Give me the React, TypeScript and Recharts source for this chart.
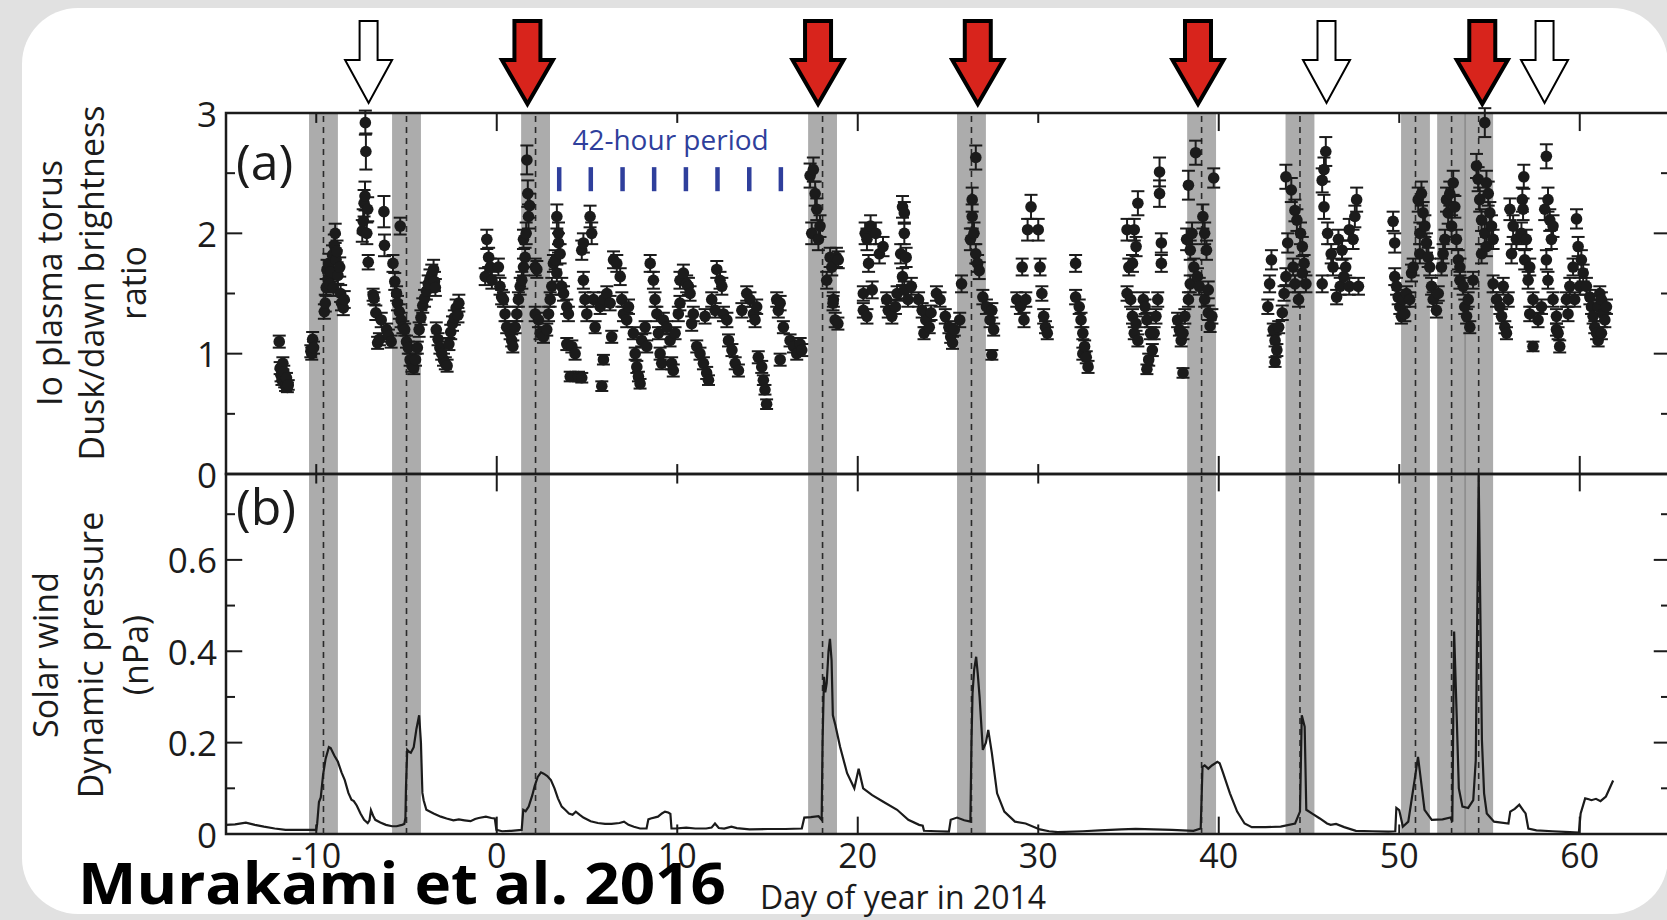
import {
  ErrorBar,
  Line,
  LineChart,
  ReferenceArea,
  ReferenceDot,
  ReferenceLine,
  Scatter,
  ScatterChart,
  XAxis,
  YAxis,
} from 'recharts'

type Obs = [number, number, number] // day, dusk/dawn ratio, error
type Wind = [number, number] // day, dynamic pressure (nPa)

const FONT = "'Open Sans', 'Noto Sans', sans-serif"
const INK = '#1b1b1b'
const BLUE = '#2f3f9c'
const RED = '#d8241c'

// axes
const dayDomain: [number, number] = [-15, 65]
const dayTicks = [-10, 0, 10, 20, 30, 40, 50, 60]
const ratioTicks = [0, 1, 2, 3]
const ratioMajor = [1, 2]
const ratioMinor = [0.5, 1.5, 2.5]
const pressureTicks = [0, 0.2, 0.4, 0.6]
const pressureMajor = [0.2, 0.4, 0.6]
const pressureMinor = [0.1, 0.3, 0.5, 0.7]
const ratioTop = 3
const pressureTop = 0.788

// grey windows + dashed lines: expected solar wind arrival at Jupiter
const arrivalWindows: [number, number][] = [
  [-10.4, -8.8], [-5.8, -4.2], [1.35, 2.95], [17.25, 18.85], [25.5, 27.1],
  [38.25, 39.85], [43.7, 45.3], [50.1, 51.7], [52.1, 53.7], [53.6, 55.2],
]
const arrivalDays = [-9.6, -5.0, 2.15, 18.05, 26.3, 39.05, 44.5, 50.9, 52.9, 54.4]
const redArrowDays = [1.7, 17.8, 26.65, 38.85, 54.6]
const whiteArrowDays = [-7.1, 45.97, 58.05]
const periodDays = [3.46, 5.21, 6.97, 8.72, 10.48, 12.23, 13.99, 15.74]

// Io plasma torus dusk/dawn ratio (Hisaki)
const torusDec1: Obs[] = [
  [-12.05, 1.1, 0.05], [-12.0, 0.88, 0.05], [-11.95, 0.82, 0.05], [-11.9, 0.78, 0.04], [-11.85, 0.92, 0.05],
  [-11.8, 0.85, 0.05], [-11.75, 0.76, 0.04], [-11.7, 0.73, 0.04], [-11.65, 0.8, 0.04], [-11.6, 0.72, 0.04],
  [-11.55, 0.74, 0.04], [-10.3, 1.02, 0.05], [-10.25, 1.0, 0.05], [-10.2, 1.12, 0.06], [-10.15, 1.05, 0.05],
  [-9.55, 1.35, 0.06], [-9.5, 1.42, 0.07], [-9.45, 1.55, 0.07], [-9.4, 1.7, 0.08], [-9.35, 1.62, 0.07],
  [-9.3, 1.75, 0.08], [-9.25, 1.58, 0.07], [-9.2, 1.68, 0.08], [-9.1, 1.82, 0.08], [-9.05, 1.55, 0.07],
  [-9.0, 1.9, 0.09], [-8.95, 2.0, 0.08], [-8.9, 1.78, 0.08], [-8.85, 1.85, 0.09], [-8.8, 1.65, 0.07],
  [-8.7, 1.72, 0.08], [-8.65, 1.5, 0.07], [-8.6, 1.42, 0.06], [-8.5, 1.38, 0.06], [-8.45, 1.45, 0.07],
]
const torusDec2: Obs[] = [
  [-7.45, 2.02, 0.09], [-7.4, 2.1, 0.1], [-7.35, 2.25, 0.11], [-7.3, 2.31, 0.12], [-7.28, 2.92, 0.1],
  [-7.25, 2.68, 0.15], [-7.2, 2.0, 0.09], [-7.15, 2.2, 0.1], [-7.12, 1.76, 0.06], [-6.85, 1.49, 0.05],
  [-6.8, 1.46, 0.05], [-6.7, 1.34, 0.06], [-6.6, 1.09, 0.05], [-6.5, 1.12, 0.05], [-6.4, 1.28, 0.06],
  [-6.25, 2.18, 0.13], [-6.22, 1.9, 0.09], [-6.1, 1.2, 0.05], [-6.0, 1.15, 0.05], [-5.85, 1.1, 0.05],
  [-5.75, 1.75, 0.07], [-5.65, 1.6, 0.07], [-5.55, 1.5, 0.06], [-5.5, 1.42, 0.06], [-5.4, 1.35, 0.06],
  [-5.35, 2.06, 0.07], [-5.3, 1.28, 0.06], [-5.2, 1.22, 0.05], [-5.1, 1.2, 0.05], [-5.0, 1.1, 0.05],
  [-4.9, 1.05, 0.05], [-4.8, 0.95, 0.05], [-4.7, 0.9, 0.05], [-4.6, 0.88, 0.05], [-4.5, 0.95, 0.05],
  [-4.4, 1.05, 0.05], [-4.3, 1.2, 0.06], [-4.2, 1.3, 0.06], [-4.1, 1.4, 0.06], [-4.0, 1.46, 0.07],
  [-3.9, 1.52, 0.07], [-3.8, 1.58, 0.07], [-3.7, 1.62, 0.08], [-3.6, 1.66, 0.08], [-3.5, 1.7, 0.08],
  [-3.45, 1.6, 0.08], [-3.4, 1.55, 0.07], [-3.35, 1.2, 0.06], [-3.25, 1.12, 0.05], [-3.15, 1.05, 0.05],
  [-3.05, 1.0, 0.05], [-2.95, 0.95, 0.05], [-2.85, 0.92, 0.05], [-2.75, 0.9, 0.05], [-2.65, 1.08, 0.05],
  [-2.55, 1.18, 0.06], [-2.45, 1.25, 0.06], [-2.35, 1.3, 0.06], [-2.25, 1.38, 0.07], [-2.15, 1.32, 0.06],
  [-2.1, 1.42, 0.07],
]
const torusJanA: Obs[] = [
  [-0.64, 1.64, 0.07], [-0.55, 1.95, 0.08], [-0.45, 1.8, 0.08], [-0.36, 1.72, 0.07], [-0.27, 1.61, 0.07],
  [0.09, 1.72, 0.07], [0.18, 1.56, 0.07], [0.27, 1.47, 0.06], [0.37, 1.45, 0.06], [0.46, 1.33, 0.06],
  [0.55, 1.22, 0.05], [0.74, 1.17, 0.05], [0.83, 1.11, 0.05], [0.89, 1.06, 0.05], [1.02, 1.22, 0.05],
  [1.11, 1.33, 0.06], [1.2, 1.45, 0.06], [1.3, 1.56, 0.07], [1.39, 1.61, 0.07], [1.48, 1.72, 0.07],
  [1.48, 1.95, 0.08], [1.57, 1.8, 0.08], [1.63, 2.0, 0.09], [1.67, 2.61, 0.12], [1.72, 2.33, 0.11],
  [1.76, 2.14, 0.1], [1.82, 2.23, 0.1], [2.13, 1.72, 0.07], [2.22, 1.7, 0.07], [2.13, 1.33, 0.06],
  [2.31, 1.28, 0.06], [2.4, 1.17, 0.05], [2.59, 1.14, 0.05], [2.77, 1.2, 0.05], [2.87, 1.33, 0.06],
  [2.96, 1.45, 0.06], [3.05, 1.56, 0.07], [3.14, 1.75, 0.07], [3.24, 1.78, 0.08], [3.33, 2.14, 0.1],
  [3.42, 2.0, 0.09], [3.42, 1.92, 0.08], [3.51, 1.83, 0.08], [3.33, 1.67, 0.07], [3.6, 1.56, 0.07],
  [3.7, 1.5, 0.06], [3.88, 1.39, 0.06], [3.97, 1.33, 0.06], [3.88, 1.08, 0.05], [4.16, 1.06, 0.05],
  [4.34, 1.0, 0.05], [4.07, 0.81, 0.04], [4.53, 0.81, 0.04], [4.71, 0.8, 0.04], [4.71, 1.86, 0.08],
  [4.8, 1.92, 0.08], [4.8, 1.61, 0.07], [4.89, 1.45, 0.06], [4.99, 1.33, 0.06], [5.17, 2.14, 0.09],
  [5.26, 2.0, 0.09], [5.36, 1.45, 0.06], [5.45, 1.22, 0.05], [5.73, 1.39, 0.06], [5.91, 1.45, 0.06],
  [6.1, 1.5, 0.06], [6.28, 1.42, 0.06], [5.91, 0.95, 0.04], [5.82, 0.73, 0.04], [6.37, 1.14, 0.05],
  [6.47, 1.78, 0.07], [6.65, 1.75, 0.07], [6.84, 1.64, 0.07], [6.93, 1.45, 0.06], [7.02, 1.33, 0.06],
  [7.2, 1.28, 0.06], [7.3, 1.39, 0.06], [7.57, 1.17, 0.05], [7.67, 1.0, 0.05], [7.76, 0.89, 0.05],
  [7.85, 0.81, 0.04], [7.94, 0.75, 0.04], [8.03, 1.11, 0.05], [8.22, 1.22, 0.05], [8.31, 1.06, 0.05],
  [8.5, 1.75, 0.07], [8.68, 1.61, 0.07], [8.77, 1.45, 0.06], [8.87, 1.33, 0.06], [8.96, 1.17, 0.05],
  [9.05, 1.0, 0.05], [9.14, 0.92, 0.05], [9.23, 1.28, 0.06],
]
const torusJanB: Obs[] = [
  [9.42, 1.22, 0.05], [9.6, 1.11, 0.05], [9.69, 0.92, 0.05], [9.78, 0.86, 0.05], [9.88, 1.17, 0.05],
  [10.06, 1.33, 0.06], [10.15, 1.42, 0.06], [10.15, 1.61, 0.07], [10.34, 1.67, 0.07], [10.52, 1.58, 0.07],
  [10.62, 1.56, 0.07], [10.71, 1.5, 0.06], [10.8, 1.25, 0.06], [10.89, 1.33, 0.06], [11.08, 1.06, 0.05],
  [11.26, 1.0, 0.05], [11.45, 0.92, 0.05], [11.63, 0.84, 0.05], [11.73, 0.78, 0.04], [11.54, 1.31, 0.06],
  [11.91, 1.45, 0.06], [12.19, 1.7, 0.07], [12.37, 1.61, 0.07], [12.47, 1.56, 0.07], [12.1, 1.36, 0.06],
  [12.56, 1.33, 0.06], [12.75, 1.28, 0.06], [12.84, 1.11, 0.05], [13.03, 1.03, 0.05], [13.21, 0.92, 0.05],
  [13.39, 0.86, 0.05], [13.58, 1.36, 0.06], [13.85, 1.5, 0.06], [14.03, 1.45, 0.06], [14.22, 1.33, 0.06],
  [14.4, 1.39, 0.06], [14.31, 1.28, 0.06], [14.49, 0.97, 0.05], [14.68, 0.89, 0.05], [14.77, 0.78, 0.04],
  [14.86, 0.7, 0.04], [14.95, 0.58, 0.04], [15.51, 1.45, 0.06], [15.6, 1.36, 0.06], [15.7, 1.42, 0.06],
  [15.88, 1.22, 0.05], [15.7, 0.95, 0.05], [16.25, 1.11, 0.05], [16.44, 1.06, 0.05], [16.62, 1.0, 0.05],
  [16.81, 1.08, 0.05], [16.9, 1.03, 0.05], [17.36, 2.48, 0.1], [17.54, 2.53, 0.1], [17.64, 2.33, 0.1],
  [17.73, 2.2, 0.09], [17.45, 2.0, 0.09], [17.82, 1.95, 0.09], [17.91, 2.06, 0.09], [18.28, 1.61, 0.07],
  [18.47, 1.8, 0.08], [18.56, 1.72, 0.07], [18.65, 1.45, 0.06], [18.75, 1.28, 0.06], [18.63, 1.42, 0.06],
  [18.82, 1.8, 0.08], [18.92, 1.78, 0.07], [18.9, 1.25, 0.05],
]
const torusJanC: Obs[] = [
  [20.31, 1.5, 0.06], [20.31, 1.36, 0.06], [20.41, 2.0, 0.09], [20.51, 1.95, 0.09], [20.51, 1.31, 0.06],
  [20.6, 1.75, 0.07], [20.71, 2.06, 0.09], [20.8, 1.53, 0.07], [21.0, 2.0, 0.09], [21.2, 1.83, 0.08],
  [21.4, 1.89, 0.08], [21.6, 1.45, 0.06], [21.69, 1.36, 0.06], [21.89, 1.31, 0.06], [22.09, 1.39, 0.06],
  [22.18, 1.5, 0.06], [22.38, 1.83, 0.08], [22.48, 2.22, 0.09], [22.48, 1.64, 0.07], [22.58, 2.17, 0.09],
  [22.58, 2.0, 0.09], [22.58, 1.53, 0.07], [22.68, 1.8, 0.08], [22.78, 1.45, 0.06], [22.97, 1.56, 0.07],
  [23.37, 1.45, 0.06], [23.57, 1.36, 0.06], [23.67, 1.17, 0.05], [23.77, 1.28, 0.06], [23.96, 1.22, 0.05],
  [24.06, 1.34, 0.06], [24.36, 1.5, 0.06], [24.56, 1.45, 0.06], [24.85, 1.31, 0.06], [25.05, 1.22, 0.05],
  [25.15, 1.14, 0.05], [25.25, 1.09, 0.05], [25.35, 1.2, 0.05], [25.65, 1.28, 0.06], [25.75, 1.58, 0.07],
  [26.24, 1.95, 0.09], [26.34, 2.28, 0.1], [26.34, 2.14, 0.1], [26.44, 2.0, 0.09], [26.54, 2.63, 0.1],
  [26.54, 1.83, 0.08], [26.64, 1.75, 0.07], [26.73, 1.69, 0.07], [26.93, 1.47, 0.06], [27.13, 1.39, 0.06],
  [27.33, 1.28, 0.06], [27.43, 1.36, 0.06], [27.43, 0.99, 0.04], [27.53, 1.2, 0.05], [28.81, 1.45, 0.06],
  [29.01, 1.39, 0.06], [29.11, 1.72, 0.07], [29.21, 1.28, 0.06], [29.31, 1.45, 0.06], [29.41, 2.03, 0.09],
  [29.6, 2.22, 0.1], [30.0, 2.03, 0.09], [30.1, 1.72, 0.07], [30.2, 1.5, 0.06], [30.3, 1.31, 0.06],
  [30.4, 1.22, 0.05], [30.5, 1.17, 0.05], [32.07, 1.75, 0.07], [32.07, 1.47, 0.06], [32.27, 1.39, 0.06],
  [32.37, 1.28, 0.06], [32.47, 1.17, 0.05], [32.47, 1.0, 0.05], [32.57, 1.06, 0.05], [32.66, 0.97, 0.05],
  [32.76, 0.89, 0.05],
]
const torusFebA: Obs[] = [
  [34.92, 2.03, 0.09], [34.92, 1.5, 0.06], [35.02, 1.72, 0.07], [35.12, 1.45, 0.06], [35.22, 1.75, 0.07],
  [35.22, 1.31, 0.06], [35.32, 2.03, 0.09], [35.32, 1.17, 0.05], [35.42, 1.89, 0.08], [35.42, 1.25, 0.06],
  [35.52, 2.25, 0.1], [35.52, 1.11, 0.05], [35.82, 1.45, 0.06], [35.92, 1.39, 0.06], [36.02, 1.28, 0.06],
  [36.02, 0.87, 0.04], [36.12, 0.95, 0.05], [36.22, 1.17, 0.05], [36.32, 1.03, 0.05], [36.42, 1.17, 0.05],
  [36.52, 1.31, 0.06], [36.62, 1.45, 0.06], [36.72, 2.51, 0.12], [36.72, 2.33, 0.11], [36.82, 1.92, 0.08],
  [36.82, 1.75, 0.07], [37.72, 1.28, 0.06], [37.82, 1.2, 0.05], [37.92, 1.11, 0.05], [38.02, 1.17, 0.05],
  [38.02, 0.84, 0.04], [38.12, 1.31, 0.06], [38.22, 1.95, 0.09], [38.32, 2.4, 0.12], [38.32, 1.45, 0.06],
  [38.42, 1.86, 0.08], [38.42, 1.58, 0.07], [38.52, 2.0, 0.09], [38.62, 1.72, 0.07], [38.72, 2.67, 0.1],
  [38.82, 1.64, 0.07], [38.92, 1.56, 0.07], [39.12, 2.14, 0.1], [39.22, 2.0, 0.09], [39.22, 1.45, 0.06],
  [39.32, 1.86, 0.08], [39.42, 1.53, 0.07], [39.42, 1.34, 0.06], [39.52, 1.23, 0.05], [39.62, 1.31, 0.06],
  [39.72, 2.46, 0.08],
]
const torusFebB: Obs[] = [
  [42.72, 1.39, 0.06], [42.82, 1.58, 0.07], [42.92, 1.78, 0.08], [43.02, 1.2, 0.05], [43.12, 1.11, 0.05],
  [43.12, 0.93, 0.04], [43.22, 1.03, 0.05], [43.32, 1.22, 0.05], [43.52, 1.34, 0.06], [43.62, 1.5, 0.06],
  [43.72, 1.64, 0.07], [43.72, 2.47, 0.1], [43.82, 1.92, 0.08], [44.02, 2.36, 0.1], [44.12, 1.72, 0.07],
  [44.22, 2.19, 0.09], [44.22, 1.58, 0.07], [44.33, 2.11, 0.09], [44.42, 1.45, 0.06], [44.53, 2.0, 0.09],
  [44.63, 1.89, 0.08], [44.63, 1.67, 0.07], [44.73, 1.75, 0.07], [44.83, 1.58, 0.07], [45.73, 2.44, 0.1],
  [45.73, 1.58, 0.07], [45.83, 2.53, 0.1], [45.83, 2.22, 0.1], [45.93, 2.68, 0.12], [46.03, 2.0, 0.09],
  [46.23, 1.83, 0.08], [46.33, 1.72, 0.07], [46.53, 1.47, 0.06], [46.63, 1.95, 0.08], [46.73, 1.56, 0.07],
  [46.83, 1.86, 0.08], [46.93, 1.64, 0.07], [47.03, 1.72, 0.07], [47.23, 2.03, 0.09], [47.23, 1.56, 0.07],
  [47.44, 1.95, 0.08], [47.54, 2.14, 0.09], [47.64, 2.28, 0.1], [47.74, 1.56, 0.07],
]
const torusFebC: Obs[] = [
  [49.66, 2.1, 0.08], [49.75, 1.92, 0.08], [49.75, 1.64, 0.07], [49.85, 1.56, 0.07], [49.94, 1.47, 0.06],
  [50.03, 1.39, 0.06], [50.12, 1.31, 0.06], [50.21, 1.45, 0.06], [50.31, 1.33, 0.06], [50.4, 1.5, 0.06],
  [50.58, 1.45, 0.06], [50.68, 1.67, 0.07], [50.77, 1.72, 0.07], [51.05, 2.28, 0.1], [51.14, 2.0, 0.09],
  [51.14, 1.83, 0.08], [51.23, 2.33, 0.1], [51.32, 2.17, 0.09], [51.42, 2.06, 0.09], [51.51, 1.92, 0.08],
  [51.6, 1.8, 0.08], [51.69, 1.72, 0.07], [51.79, 1.56, 0.07], [51.88, 1.45, 0.06], [52.06, 1.36, 0.06],
  [52.16, 1.5, 0.06], [52.34, 1.72, 0.07], [52.43, 1.83, 0.08], [52.53, 1.95, 0.08], [52.62, 2.28, 0.1],
  [52.71, 2.17, 0.09], [52.8, 2.33, 0.1], [52.9, 2.06, 0.09], [52.99, 2.42, 0.1], [53.08, 2.22, 0.09],
  [53.17, 1.95, 0.08], [53.27, 1.78, 0.08], [53.36, 1.72, 0.07], [53.36, 1.61, 0.07], [53.54, 1.56, 0.07],
  [53.63, 1.39, 0.06], [53.73, 1.31, 0.06], [53.82, 1.45, 0.06], [53.91, 1.22, 0.05], [54.09, 1.61, 0.07],
  [54.28, 2.56, 0.1], [54.37, 2.45, 0.1], [54.46, 2.28, 0.1], [54.56, 2.11, 0.09], [54.56, 1.83, 0.08],
  [54.74, 2.92, 0.12], [54.74, 2.0, 0.09], [54.83, 2.42, 0.1], [54.83, 1.89, 0.08], [54.93, 2.33, 0.1],
  [55.02, 2.17, 0.09], [55.11, 2.06, 0.09], [55.2, 1.95, 0.08], [55.2, 1.58, 0.07], [55.39, 1.45, 0.06],
  [55.57, 1.39, 0.06], [55.67, 1.31, 0.06], [55.76, 1.56, 0.07], [55.85, 1.22, 0.05], [55.94, 1.17, 0.05],
  [56.04, 1.45, 0.06], [56.13, 2.2, 0.09], [56.22, 1.83, 0.08], [56.31, 2.06, 0.09], [56.49, 1.95, 0.08],
  [56.77, 2.0, 0.09], [56.82, 2.28, 0.1], [56.86, 2.2, 0.09], [56.9, 2.47, 0.1], [56.95, 1.78, 0.08],
  [57.04, 1.95, 0.08], [57.14, 1.61, 0.07], [57.23, 1.72, 0.07], [57.23, 1.33, 0.06], [57.41, 1.45, 0.06],
  [57.41, 1.06, 0.04], [57.69, 1.28, 0.06], [57.88, 1.39, 0.06], [58.06, 2.2, 0.09], [58.15, 2.64, 0.1],
  [58.15, 1.78, 0.08], [58.24, 2.28, 0.1], [58.24, 1.61, 0.07], [58.34, 2.11, 0.09], [58.43, 1.95, 0.08],
  [58.52, 2.06, 0.09], [58.52, 1.45, 0.06], [58.71, 1.31, 0.06], [58.71, 1.2, 0.05], [58.8, 1.17, 0.05],
  [58.89, 1.06, 0.05], [59.26, 1.45, 0.06], [59.35, 1.33, 0.06], [59.45, 1.56, 0.07], [59.63, 1.72, 0.07],
  [59.72, 1.45, 0.06], [59.82, 2.12, 0.08], [59.91, 1.89, 0.08], [60.0, 1.56, 0.07], [60.09, 1.78, 0.08],
  [60.19, 1.67, 0.07], [60.37, 1.56, 0.07], [60.56, 1.47, 0.06], [60.65, 1.39, 0.06], [60.74, 1.31, 0.06],
  [60.83, 1.22, 0.05], [60.93, 1.17, 0.05], [61.02, 1.39, 0.06], [61.02, 1.11, 0.05], [61.11, 1.5, 0.06],
  [61.2, 1.45, 0.06], [61.2, 1.17, 0.05], [61.29, 1.33, 0.06], [61.39, 1.28, 0.06], [61.48, 1.39, 0.06],
]

// solar wind dynamic pressure propagated to Jupiter
const windDec: Wind[] = [
  [-15, 0.02], [-14.5, 0.021], [-13.9, 0.025], [-13.4, 0.02], [-12.9, 0.016], [-12.3, 0.012], [-11.7, 0.009],
  [-11.0, 0.009], [-10.4, 0.009], [-10.0, 0.009], [-9.95, 0.022], [-9.85, 0.07], [-9.75, 0.08], [-9.62, 0.13],
  [-9.48, 0.165], [-9.3, 0.19], [-9.2, 0.188], [-9.0, 0.172], [-8.8, 0.158], [-8.6, 0.135], [-8.42, 0.118],
  [-8.22, 0.09], [-8.05, 0.075], [-7.92, 0.072], [-7.75, 0.062], [-7.55, 0.045], [-7.35, 0.031], [-7.15, 0.024],
  [-7.05, 0.03], [-6.97, 0.052], [-6.85, 0.04], [-6.73, 0.031], [-6.45, 0.025], [-6.14, 0.02], [-5.8, 0.017],
  [-5.55, 0.017], [-5.25, 0.02], [-5.12, 0.022], [-5.06, 0.035], [-5.03, 0.1], [-4.96, 0.184], [-4.86, 0.18],
  [-4.76, 0.178], [-4.6, 0.19], [-4.45, 0.23], [-4.3, 0.26], [-4.2, 0.2], [-4.12, 0.09], [-4.05, 0.074],
  [-3.9, 0.053], [-3.5, 0.045], [-3.1, 0.038], [-2.78, 0.034], [-2.4, 0.03], [-2.1, 0.032], [-1.79, 0.03],
  [-1.45, 0.028], [-1.2, 0.033], [-1.0, 0.035], [-0.6, 0.038], [-0.3, 0.035], [-0.11, 0.034], [-0.02, 0.009],
]
const windJan: Wind[] = [
  [0.3, 0.006], [0.8, 0.007], [1.38, 0.009], [1.47, 0.053], [1.6, 0.05], [1.77, 0.06], [1.97, 0.085],
  [2.1, 0.105], [2.27, 0.125], [2.45, 0.135], [2.6, 0.132], [2.8, 0.127], [3.0, 0.118], [3.2, 0.1],
  [3.39, 0.078], [3.6, 0.06], [3.79, 0.053], [4.0, 0.045], [4.2, 0.042], [4.38, 0.049], [4.6, 0.042],
  [4.8, 0.036], [5.2, 0.028], [5.6, 0.024], [6.0, 0.022], [6.36, 0.022], [6.8, 0.024], [7.05, 0.027],
  [7.3, 0.02], [7.6, 0.016], [7.94, 0.012], [8.3, 0.012], [8.4, 0.032], [8.53, 0.034], [8.93, 0.038],
  [9.15, 0.045], [9.32, 0.049], [9.5, 0.047], [9.62, 0.044], [9.68, 0.012], [9.9, 0.012], [10.5, 0.014],
  [11.0, 0.012], [11.6, 0.012], [11.9, 0.014], [12.09, 0.023], [12.3, 0.013], [12.6, 0.012], [13.0, 0.016],
  [13.3, 0.013], [14.0, 0.01], [15.0, 0.011], [16.0, 0.011], [16.9, 0.012], [17.04, 0.036], [17.4, 0.037],
  [17.83, 0.039], [18.0, 0.031], [18.05, 0.2], [18.13, 0.344], [18.2, 0.31], [18.28, 0.33], [18.38, 0.4],
  [18.46, 0.427], [18.55, 0.38], [18.62, 0.26], [18.75, 0.24], [19.02, 0.191], [19.41, 0.133], [19.81, 0.1],
  [19.95, 0.125], [20.05, 0.143], [20.3, 0.1], [20.8, 0.085], [21.39, 0.071], [22.18, 0.053], [22.8, 0.031],
  [23.4, 0.02], [23.6, 0.018], [23.67, 0.007], [24.4, 0.006], [25.05, 0.005], [25.15, 0.031], [25.5, 0.036],
  [25.9, 0.03], [26.24, 0.027], [26.3, 0.2], [26.36, 0.308], [26.45, 0.36], [26.56, 0.388], [26.65, 0.35],
  [26.75, 0.3], [26.93, 0.184], [27.1, 0.2], [27.23, 0.228], [27.43, 0.177], [27.72, 0.089], [28.12, 0.049],
  [28.71, 0.027], [29.3, 0.023], [30.09, 0.01], [30.6, 0.006], [31.08, 0.004],
]
const windFeb: Wind[] = [
  [32.47, 0.006], [33.4, 0.008], [34.6, 0.01], [35.4, 0.011], [36.4, 0.01], [37.4, 0.009], [38.6, 0.007],
  [39.0, 0.012], [39.1, 0.147], [39.22, 0.15], [39.42, 0.143], [39.62, 0.15], [39.92, 0.158], [40.05, 0.155],
  [40.22, 0.136], [40.62, 0.089], [41.02, 0.049], [41.43, 0.023], [41.83, 0.015], [42.6, 0.015], [43.43, 0.016],
  [44.23, 0.023], [44.5, 0.049], [44.6, 0.26], [44.76, 0.235], [44.85, 0.053], [45.2, 0.044], [45.6, 0.034],
  [46.0, 0.023], [46.2, 0.02], [46.5, 0.022], [46.95, 0.015], [47.6, 0.007], [48.5, 0.006], [49.4, 0.005],
  [49.78, 0.006], [49.84, 0.057], [50.0, 0.052], [50.2, 0.016], [50.5, 0.027], [50.85, 0.118], [51.04, 0.169],
  [51.2, 0.118], [51.4, 0.053], [51.8, 0.031], [52.4, 0.032], [52.84, 0.036], [52.94, 0.027], [53.04, 0.443],
  [53.2, 0.235], [53.3, 0.1], [53.5, 0.06], [53.82, 0.057], [54.1, 0.074], [54.24, 0.162], [54.4, 0.786],
  [54.58, 0.206], [54.7, 0.089], [54.85, 0.045], [55.25, 0.027], [56.05, 0.023], [56.15, 0.049], [56.4, 0.055],
  [56.65, 0.064], [56.9, 0.05], [57.0, 0.045], [57.15, 0.012], [57.6, 0.008], [58.5, 0.006], [59.45, 0.004],
  [59.95, 0.003], [60.05, 0.045], [60.3, 0.078], [60.5, 0.076], [60.65, 0.074], [60.9, 0.077], [61.15, 0.072],
  [61.45, 0.082], [61.85, 0.117],
]

const torus = [torusDec1, torusDec2, torusJanA, torusJanB, torusJanC, torusFebA, torusFebB, torusFebC]
  .flat()
  .map(([day, ratio, err]) => ({ day, ratio, err }))
const wind = [windDec, windJan, windFeb].flat().map(([day, p]) => ({ day, p }))

// layout
const CHART_W = 1690 // a bit wider than the page: right frame sits just off-screen like the source
const AXIS_W = 60
const PLOT_LEFT = 226
const marginA = { top: 113, right: 20, bottom: 26, left: PLOT_LEFT - AXIS_W }
const marginB = { top: 474, right: 20, bottom: 46, left: PLOT_LEFT - AXIS_W }

const yTick = (p: any) => (
  <text x={p.x} y={p.y} textAnchor="end" dominantBaseline="central" fontSize={35} fill={INK} fontFamily={FONT}>
    {p.payload.value}
  </text>
)
const xTick = (p: any) => (
  <text x={p.x} y={p.y + 34} textAnchor="middle" fontSize={34} fill={INK} fontFamily={FONT}>
    {p.payload.value}
  </text>
)

// inward ticks on all four sides, drawn in data units
function frameTicks(id: string, top: number, xLen: number, major: number[], minor: number[]) {
  const seg = (k: string, a: { x: number; y: number }, b: { x: number; y: number }) => (
    <ReferenceLine key={id + k} segment={[a, b]} stroke={INK} strokeWidth={2} ifOverflow="visible" />
  )
  const out = [] as any[]
  dayTicks.forEach((d) => {
    const len = d % 20 === 0 ? xLen : xLen * 0.55
    out.push(seg(`t${d}`, { x: d, y: top }, { x: d, y: top - len }))
    out.push(seg(`b${d}`, { x: d, y: 0 }, { x: d, y: len }))
  })
  ;[...major.map((v) => [v, 0.9]), ...minor.map((v) => [v, 0.5])].forEach(([v, len]) => {
    out.push(seg(`l${v}`, { x: -15, y: v }, { x: -15 + len, y: v }))
    out.push(seg(`r${v}`, { x: 65, y: v }, { x: 65 - len, y: v }))
  })
  return out
}

const arrow = (fill: string, heavy: boolean) => (p: any) => {
  const { cx, cy } = p
  const half = heavy ? 13 : 9
  const head = heavy ? 25.5 : 23.5
  const tip = cy - (heavy ? 9 : 10)
  const neck = cy - 53
  const top = cy - 92
  const pts = [
    [cx - half, top], [cx + half, top], [cx + half, neck], [cx + head, neck],
    [cx, tip], [cx - head, neck], [cx - half, neck],
  ]
  return (
    <polygon
      points={pts.map((q) => q.join(',')).join(' ')}
      fill={fill}
      stroke="#000"
      strokeWidth={heavy ? 4 : 2}
      strokeLinejoin="miter"
    />
  )
}

const bands = () =>
  arrivalWindows.map(([a, b]) => (
    <ReferenceArea key={`w${a}`} x1={a} x2={b} fill="#7f7f7f" fillOpacity={0.65} stroke="none" />
  ))
const dashes = () =>
  arrivalDays.map((d) => (
    <ReferenceLine key={`d${d}`} x={d} stroke="#2a2a2a" strokeDasharray="6 5" strokeWidth={1.6} />
  ))

export default function App() {
  return (
    <div
      style={{
        position: 'fixed', left: 0, top: 0, width: 1667, height: 920,
        overflow: 'hidden', background: '#e1e1e1', fontFamily: FONT,
      }}
    >
      <div style={{ position: 'absolute', left: 22, top: 8, width: 1646, height: 906, borderRadius: 56, background: '#fff' }} />

      <div style={{ position: 'absolute', left: 0, top: 0 }}>
        <ScatterChart width={CHART_W} height={500} margin={marginA}>
          <XAxis type="number" dataKey="day" domain={dayDomain} allowDataOverflow hide />
          <YAxis
            type="number" dataKey="ratio" domain={[0, ratioTop]} allowDataOverflow ticks={ratioTicks} interval={0}
            width={AXIS_W} axisLine={false} tickLine={false} tickSize={0} tickMargin={9} tick={yTick}
          />
          {bands()}
          {dashes()}
          <Scatter
            data={torus}
            isAnimationActive={false}
            shape={(p: any) => <circle cx={p.cx} cy={p.cy} r={5.8} fill={INK} />}
          >
            <ErrorBar dataKey="err" direction="y" width={6.5} stroke={INK} strokeWidth={2} isAnimationActive={false} />
          </Scatter>
          {periodDays.map((d) => (
            <ReferenceLine key={`p${d}`} segment={[{ x: d, y: 2.35 }, { x: d, y: 2.55 }]} stroke={BLUE} strokeWidth={4.5} />
          ))}
          <ReferenceDot
            x={9.63} y={2.69} r={0} ifOverflow="visible"
            shape={(p: any) => (
              <text x={p.cx} y={p.cy} textAnchor="middle" fontSize={28} fill={BLUE} fontFamily={FONT}>
                42-hour period
              </text>
            )}
          />
          <ReferenceArea x1={-15} x2={65} y1={0} y2={ratioTop} fill="none" stroke={INK} strokeWidth={2.5} ifOverflow="visible" />
          {frameTicks('a', ratioTop, 0.15, ratioMajor, ratioMinor)}
          {redArrowDays.map((d) => (
            <ReferenceDot key={`r${d}`} x={d} y={ratioTop} ifOverflow="visible" shape={arrow(RED, true)} />
          ))}
          {whiteArrowDays.map((d) => (
            <ReferenceDot key={`o${d}`} x={d} y={ratioTop} ifOverflow="visible" shape={arrow('#fff', false)} />
          ))}
        </ScatterChart>
      </div>

      <div style={{ position: 'absolute', left: 0, top: 0 }}>
        <LineChart width={CHART_W} height={920} data={wind} margin={marginB}>
          <XAxis
            type="number" dataKey="day" domain={dayDomain} allowDataOverflow ticks={dayTicks} interval={0}
            height={40} axisLine={false} tickLine={false} tickSize={0} tickMargin={0} tick={xTick}
          />
          <YAxis
            type="number" domain={[0, pressureTop]} allowDataOverflow ticks={pressureTicks} interval={0}
            width={AXIS_W} axisLine={false} tickLine={false} tickSize={0} tickMargin={9} tick={yTick}
          />
          {bands()}
          {dashes()}
          <Line dataKey="p" type="linear" stroke={INK} strokeWidth={2.2} dot={false} isAnimationActive={false} />
          <ReferenceArea x1={-15} x2={65} y1={0} y2={pressureTop} fill="none" stroke={INK} strokeWidth={2.5} ifOverflow="visible" />
          {frameTicks('b', pressureTop, 0.038, pressureMajor, pressureMinor)}
        </LineChart>
      </div>

      <svg width={1667} height={920} style={{ position: 'absolute', left: 0, top: 0 }} fontFamily={FONT} fill={INK}>
        <g fontSize={34}>
          {['Io plasma torus', 'Dusk/dawn brightness', 'ratio'].map((t, i) => (
            <text key={t} transform={`translate(${62 + 42 * i},283) rotate(-90)`} textAnchor="middle">{t}</text>
          ))}
          {['Solar wind', 'Dynamic pressure', '(nPa)'].map((t, i) => (
            <text key={t} transform={`translate(${58 + 45 * i},655) rotate(-90)`} textAnchor="middle">{t}</text>
          ))}
        </g>
        <text x={236} y={180} fontSize={50}>(a)</text>
        <text x={236} y={525} fontSize={50}>(b)</text>
        <text x={903} y={909} fontSize={32} textAnchor="middle">Day of year in 2014</text>
        <text x={78} y={904} fontSize={57} fontWeight={700} fill="#000" textLength={648} lengthAdjust="spacingAndGlyphs">
          Murakami et al. 2016
        </text>
      </svg>
    </div>
  )
}
